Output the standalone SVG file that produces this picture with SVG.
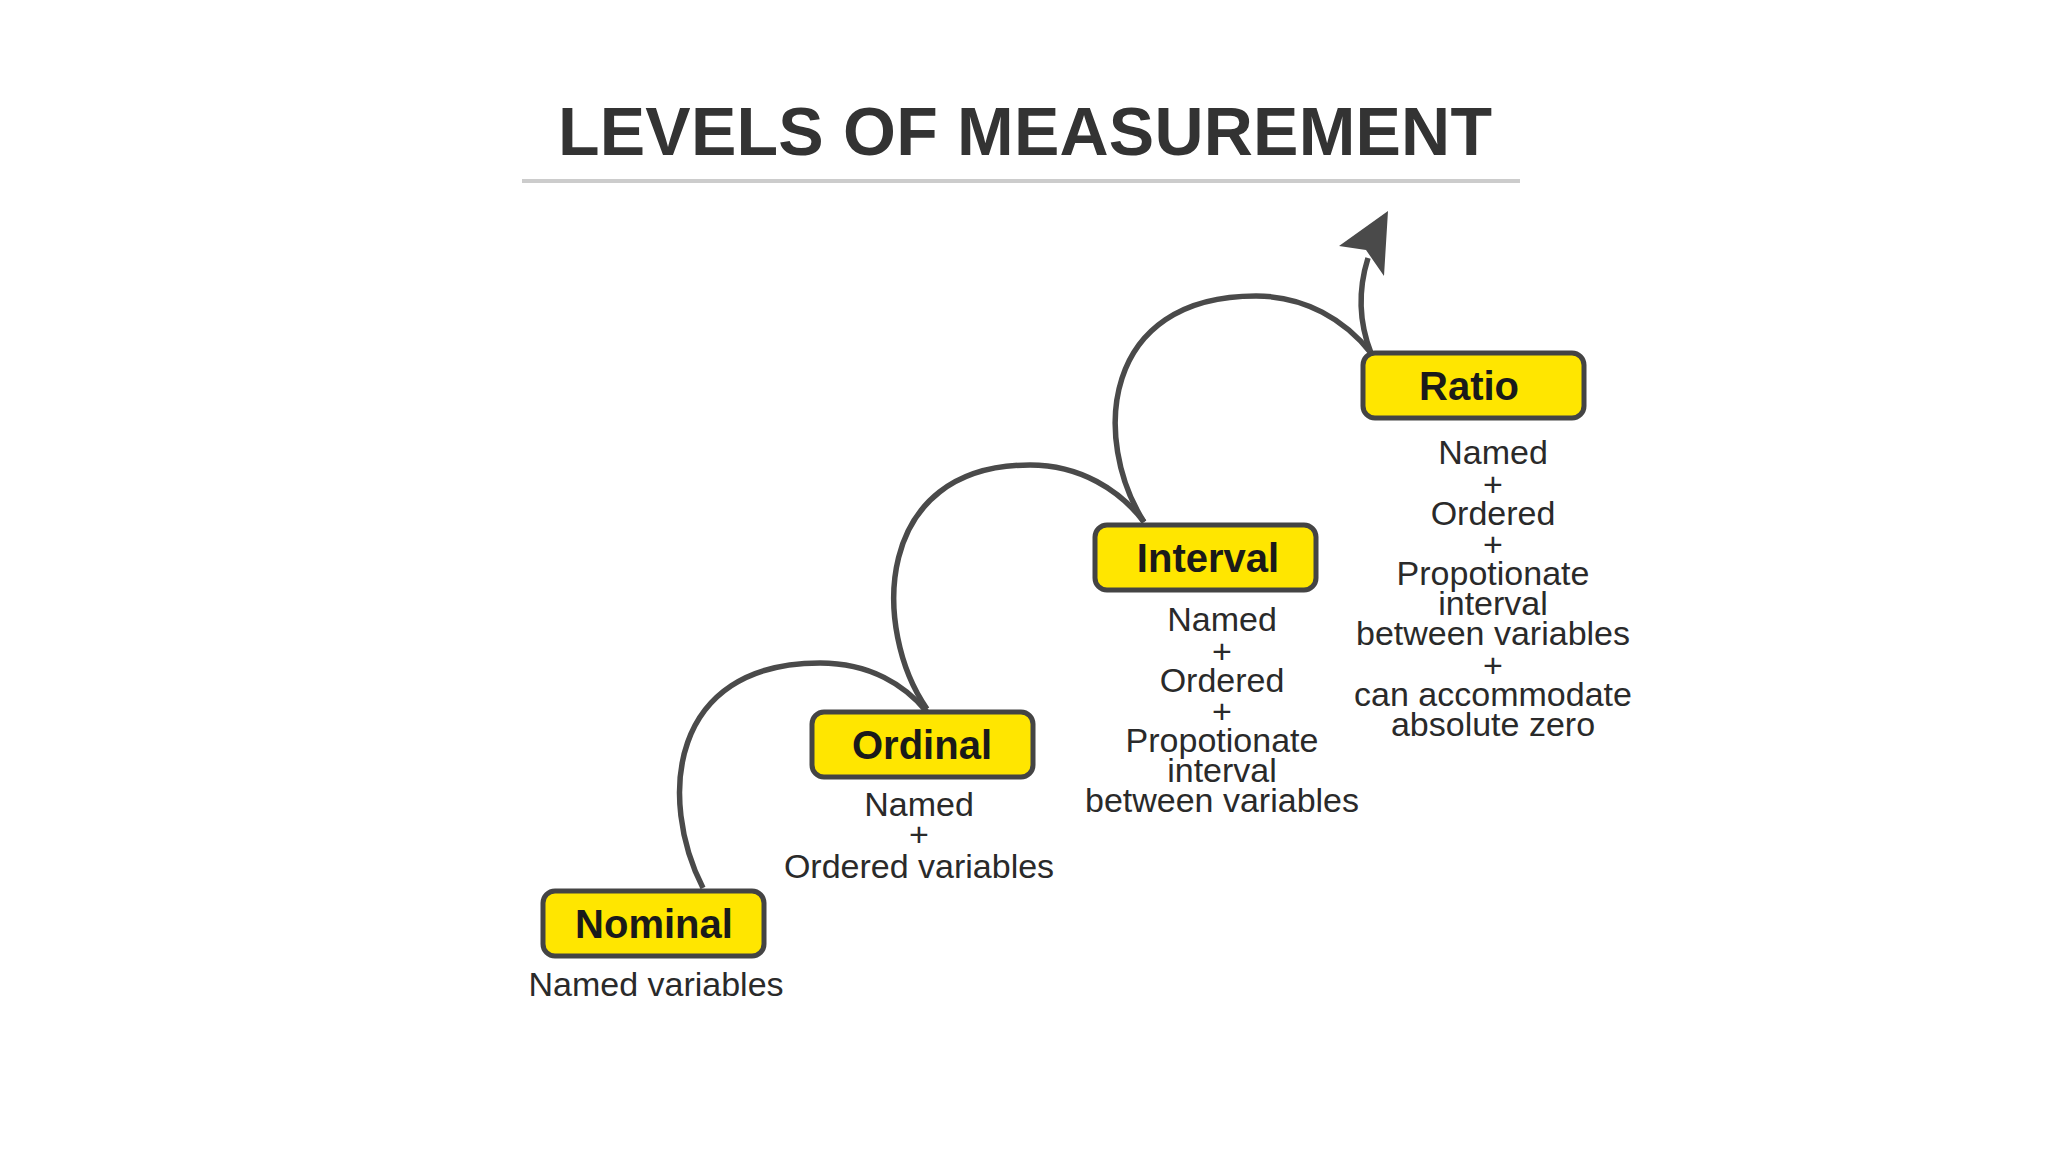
<svg xmlns="http://www.w3.org/2000/svg" width="2048" height="1152" viewBox="0 0 2048 1152">
<style>
.box{fill:#ffe600;stroke:#444;stroke-width:5}
.lbl{font-family:"Liberation Sans",Arial,sans-serif;font-weight:bold;font-size:40px;fill:#1a1a1a;text-anchor:middle}
.d{font-family:"Liberation Sans",Arial,sans-serif;font-size:34px;fill:#2a2a2a;text-anchor:middle}
.c{fill:none;stroke:#4a4a4a;stroke-width:5.5}
</style>
<rect width="2048" height="1152" fill="#fff"/>
<text x="1025" y="155" font-family="Liberation Sans,Arial,sans-serif" font-weight="bold" font-size="68" fill="#333" text-anchor="middle" textLength="934">LEVELS OF MEASUREMENT</text>
<line x1="522" y1="181" x2="1520" y2="181" stroke="#ccc" stroke-width="4"/>
<g id="connectors">
<path class="c" d="M703,888 C658,800 668,663 820,663 C870,663 905,685 927,712"/>
<path class="c" d="M927,709 C872,630 872,465 1030,465 C1080,465 1120,490 1144,522"/>
<path class="c" d="M1144,522 C1092,440 1100,296 1256,296 C1305,296 1345,320 1371,353"/>
<path class="c" d="M1371,353 C1358,320 1358,290 1368,258"/>
<path d="M1388,211 L1339,246 L1366,250 L1384,276 Z" fill="#4a4a4a"/>
</g>
<g id="nominal">
<rect class="box" x="543" y="891" width="221" height="65" rx="12"/>
<text class="lbl" x="654" y="938">Nominal</text>
<text class="d" x="656" y="996">Named variables</text>
</g>
<g id="ordinal">
<rect class="box" x="812" y="712" width="221" height="65" rx="12"/>
<text class="lbl" x="922" y="759">Ordinal</text>
<text class="d" x="919" y="816">Named</text>
<text class="d" x="919" y="846">+</text>
<text class="d" x="919" y="878">Ordered variables</text>
</g>
<g id="interval">
<rect class="box" x="1095" y="525" width="221" height="65" rx="12"/>
<text class="lbl" x="1208" y="572">Interval</text>
<text class="d" x="1222" y="631">Named</text>
<text class="d" x="1222" y="663">+</text>
<text class="d" x="1222" y="692">Ordered</text>
<text class="d" x="1222" y="723">+</text>
<text class="d" x="1222" y="752">Propotionate</text>
<text class="d" x="1222" y="782">interval</text>
<text class="d" x="1222" y="812">between variables</text>
</g>
<g id="ratio">
<rect class="box" x="1363" y="353" width="221" height="65" rx="12"/>
<text class="lbl" x="1469" y="400">Ratio</text>
<text class="d" x="1493" y="464">Named</text>
<text class="d" x="1493" y="496">+</text>
<text class="d" x="1493" y="525">Ordered</text>
<text class="d" x="1493" y="556">+</text>
<text class="d" x="1493" y="585">Propotionate</text>
<text class="d" x="1493" y="615">interval</text>
<text class="d" x="1493" y="645">between variables</text>
<text class="d" x="1493" y="677">+</text>
<text class="d" x="1493" y="706">can accommodate</text>
<text class="d" x="1493" y="736">absolute zero</text>
</g>
</svg>
